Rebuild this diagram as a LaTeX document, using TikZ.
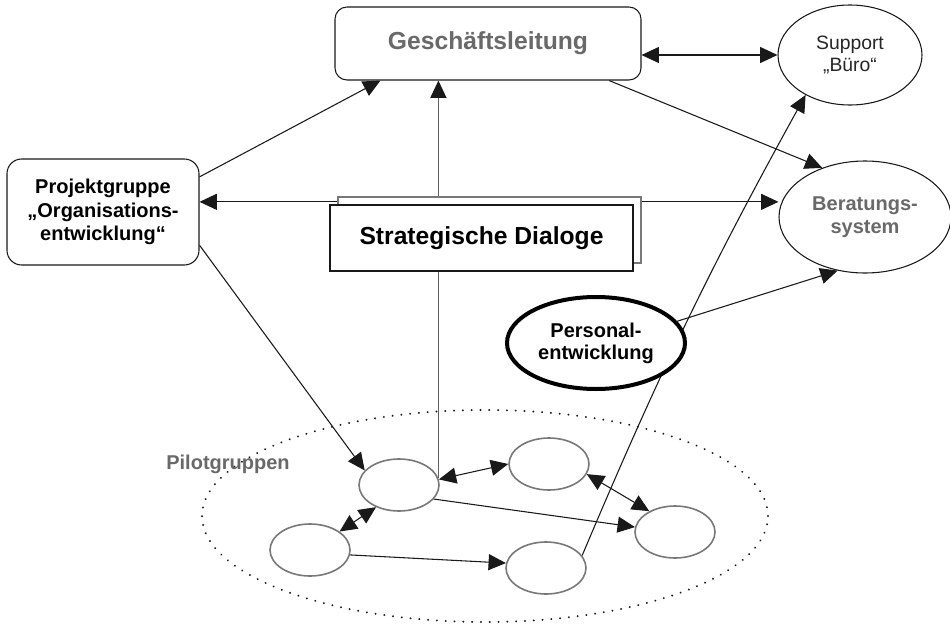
\documentclass[tikz,border=0pt]{standalone}
\usepackage{fontspec}
\setmainfont{Liberation Sans}
\usetikzlibrary{arrows.meta,shapes.geometric}
\pgfdeclarelayer{bg}
\pgfsetlayers{bg,main}
\definecolor{txtgray}{RGB}{105,105,105}
\definecolor{rimgray}{RGB}{120,120,120}
\definecolor{inkgray}{RGB}{25,25,25}

\begin{document}
\begin{tikzpicture}[x=0.75pt,y=0.75pt,yscale=-1,xscale=1,
  arr/.style={draw=inkgray,line width=0.8pt,-{Triangle[length=13pt,width=12pt,inkgray]}},
  dblarr/.style={draw=inkgray,line width=0.8pt,{Triangle[length=13pt,width=12pt,inkgray]}-{Triangle[length=13pt,width=12pt,inkgray]}},
  lab/.style={font=\bfseries\fontsize{15}{17.5}\selectfont,align=center},
  rbox/.style={draw=inkgray,line width=0.8pt,rounded corners=9pt,fill=white,inner sep=0pt},
  oval/.style={ellipse,draw=inkgray,line width=0.8pt,fill=white,inner sep=0pt},
  pilot/.style={ellipse,draw=rimgray,line width=1.2pt,fill=white,inner sep=0pt,minimum width=60pt,minimum height=39pt}]
\useasboundingbox (0,0) rectangle (950,625);

%Shape: Rounded Rect
\node [rbox,minimum width=229.5pt,minimum height=54.75pt,lab,text=txtgray,font=\bfseries\fontsize{18.5}{21}\selectfont] (gl) at (488,43.5) {Geschäftsleitung};
%Shape: Rounded Rect
\node [rbox,rounded corners=11pt,minimum width=144pt,minimum height=79.5pt,lab] (proj) at (103,212) {Projektgruppe\\„Organisations-\\entwicklung“};
%Shape: Rectangle (back)
\node [draw=rimgray,line width=0.8pt,fill=white,minimum width=227.25pt,minimum height=49.5pt] (sdback) at (489.5,230) {};
%Shape: Rectangle
\node [draw=inkgray,line width=0.8pt,fill=white,minimum width=227.25pt,minimum height=49.5pt,font=\bfseries\fontsize{18.5}{21}\selectfont] (sd) at (481.5,238) {Strategische Dialoge};
%Shape: Ellipse
\node [oval,minimum width=108pt,minimum height=75pt,align=center,text=black!85,font=\fontsize{14.5}{16.5}\selectfont] (sup) at (850,55) {Support\\„Büro“};
%Shape: Ellipse
\node [oval,minimum width=129pt,minimum height=84pt,lab,text=txtgray] (ber) at (865,217) {Beratungs-\\system};
%Shape: Ellipse
\node [oval,line width=3pt,draw=black,minimum width=133.5pt,minimum height=69pt,lab,font=\bfseries\fontsize{15}{16.5}\selectfont] (pers) at (596,343) {Personal-\\entwicklung};

%Shape: Ellipse (dotted)
\node [ellipse,draw=inkgray,line width=1.6pt,line cap=round,dash pattern=on 0.01pt off 6.6pt,minimum width=424.5pt,minimum height=159pt] (grp) at (485,516) {};
% Text Node
\node [lab,text=txtgray] (grplab) at (228,464) {Pilotgruppen};

%Shape: Ellipse
\node [pilot] (p1) at (399,485) {};
\node [pilot] (p2) at (549,464) {};
\node [pilot] (p3) at (310,550) {};
\node [pilot] (p4) at (546,568) {};
\node [pilot] (p5) at (675,532) {};

\begin{pgfonlayer}{bg}
%Straight Lines
\draw [arr] (proj.20) -- (gl.199);
\draw [arr,draw=black!62,line width=1pt] (p1.10) -- (p1.10 |- gl.south);
\draw [dblarr] (gl.east |- sup.west) -- (sup.west);
\draw [arr] (gl.-17) -- (ber.131);
\draw [dblarr] (proj.6) -- (proj.6 -| ber.west);
\draw [arr] (pers.15) -- (ber.243);
\draw [arr] (proj.-19) -- (p1.157);
\draw [arr] (p4.19) to[bend right=3] (sup.222);
\draw [dblarr] (p1.8) -- (p2.west);
\draw [dblarr] (p2.-15) -- (p5.141);
\draw [arr] (p1.-22) -- (p5.173);
\draw [dblarr] (p3.32) -- (p1.224);
\draw [arr] (p3.-7) -- (p4.173);
\end{pgfonlayer}

\end{tikzpicture}
\end{document}
